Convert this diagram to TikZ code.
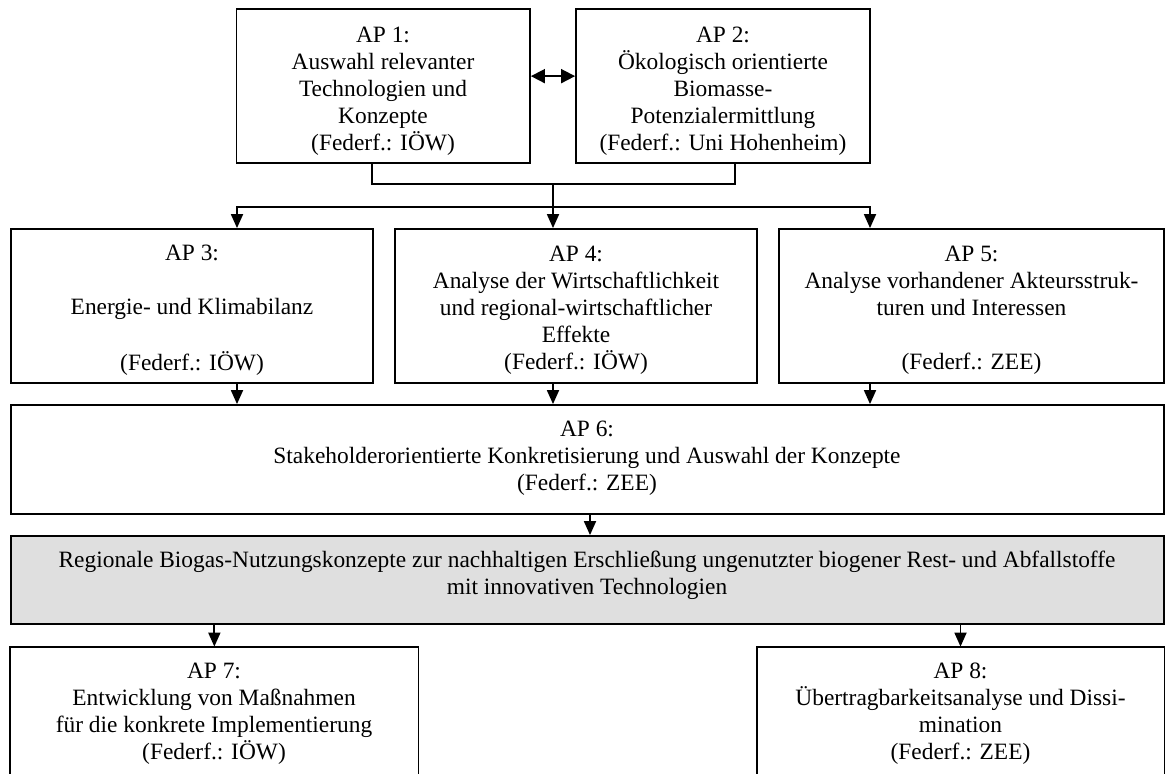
\documentclass[tikz,border=0pt]{standalone}
\usepackage{fontspec}
\setmainfont{Liberation Serif}
\usetikzlibrary{arrows.meta,fit}
\begin{document}
\begin{tikzpicture}[x=0.5pt,y=-0.5pt,
  box/.style={draw=black, line width=0.9pt, inner sep=0pt},
  graybox/.style={box, fill=gray!25},
  openbox/.style={draw=none, inner sep=0pt},
  txt/.style={align=center, inner sep=0pt, font=\fontsize{11.7pt}{13.5pt}\selectfont},
  conn/.style={line width=0.9pt},
  arr/.style={conn, -{Triangle[length=7pt,width=6pt]}},
  biarr/.style={conn, {Triangle[length=7pt,width=7pt]}-{Triangle[length=7pt,width=7pt]}}
]
\fill[white] (0,0) rectangle (1166,774);
\useasboundingbox (0,0) rectangle (1166,774);

% boxes
\node[box, fit={(236.5,9.3) (530,163)}] (ap1) {};
\node[box, fit={(576,9.3) (870,163)}] (ap2) {};
\node[box, fit={(10.7,229) (373,383)}] (ap3) {};
\node[box, fit={(395,229) (757,383)}] (ap4) {};
\node[box, fit={(779,229) (1164,383)}] (ap5) {};
\node[box, fit={(10.7,405) (1164,514)}] (ap6) {};
\node[graybox, fit={(10.7,536) (1164,624)}] (res) {};
\node[openbox, fit={(10.7,647) (418,774)}] (ap7) {};
\node[openbox, fit={(757,647) (1164,774)}] (ap8) {};
\draw[conn] (ap7.south west) -- (ap7.north west) -- (ap7.north east) -- (ap7.south east);
\draw[conn] (ap8.south west) -- (ap8.north west) -- (ap8.north east) -- (ap8.south east);

% texts
\node[txt] (t1) at (383,91) {AP 1:\\Auswahl relevanter\\Technologien und\\Konzepte\\(Federf.: IÖW)};
\node[txt] (t2) at (723,91) {AP 2:\\Ökologisch orientierte\\Biomasse-\\Potenzialermittlung\\(Federf.: Uni Hohenheim)};
\node[txt] (t3) at (192,310) {AP 3:\\\strut\\Energie- und Klimabilanz\\\strut\\(Federf.: IÖW)};
\node[txt] (t4) at (576,310) {AP 4:\\Analyse der Wirtschaftlichkeit\\und regional-wirtschaftlicher\\Effekte\\(Federf.: IÖW)};
\node[txt] (t5) at (971.5,310) {AP 5:\\Analyse vorhandener Akteursstruk-\\turen und Interessen\\\strut\\(Federf.: ZEE)};
\node[txt] (t6) at (587,458) {AP 6:\\Stakeholderorientierte Konkretisierung und Auswahl der Konzepte\\(Federf.: ZEE)};
\node[txt] (t9) at (587,575.5) {Regionale Biogas-Nutzungskonzepte zur nachhaltigen Erschließung ungenutzter biogener Rest- und Abfallstoffe\\mit innovativen Technologien};
\node[txt] (t7) at (214,714) {AP 7:\\Entwicklung von Maßnahmen\\für die konkrete Implementierung\\(Federf.: IÖW)};
\node[txt] (t8) at (960.5,714) {AP 8:\\Übertragbarkeitsanalyse und Dissi-\\mination\\(Federf.: ZEE)};

% helper coordinates
\coordinate (x372) at (372,0);
\coordinate (x735) at (735,0);
\coordinate (x237) at (237,0);
\coordinate (x553) at (553,0);
\coordinate (x870) at (870,0);
\coordinate (x590) at (590,0);
\coordinate (jm) at (553,184.3);
\coordinate (jd) at (553,207.3);

% connectors
\draw[biarr] ([yshift=5pt]ap1.east) -- ([yshift=5pt]ap2.west);
\draw[conn] (ap1.south -| x372) |- (jm) -| (ap2.south -| x735);
\draw[conn] (jm) -- (jd);
\draw[arr] (jd) -| (ap3.north -| x237);
\draw[arr] (jd) -- (ap4.north -| x553);
\draw[arr] (jd) -| (ap5.north -| x870);
\draw[arr] (ap3.south -| x237) -- (ap6.north -| x237);
\draw[arr] (ap4.south -| x553) -- (ap6.north -| x553);
\draw[arr] (ap5.south -| x870) -- (ap6.north -| x870);
\draw[arr] (ap6.south -| x590) -- (res.north -| x590);
\draw[arr] (res.south -| ap7.north) -- (ap7.north);
\draw[arr] (res.south -| ap8.north) -- (ap8.north);
\end{tikzpicture}
\end{document}
